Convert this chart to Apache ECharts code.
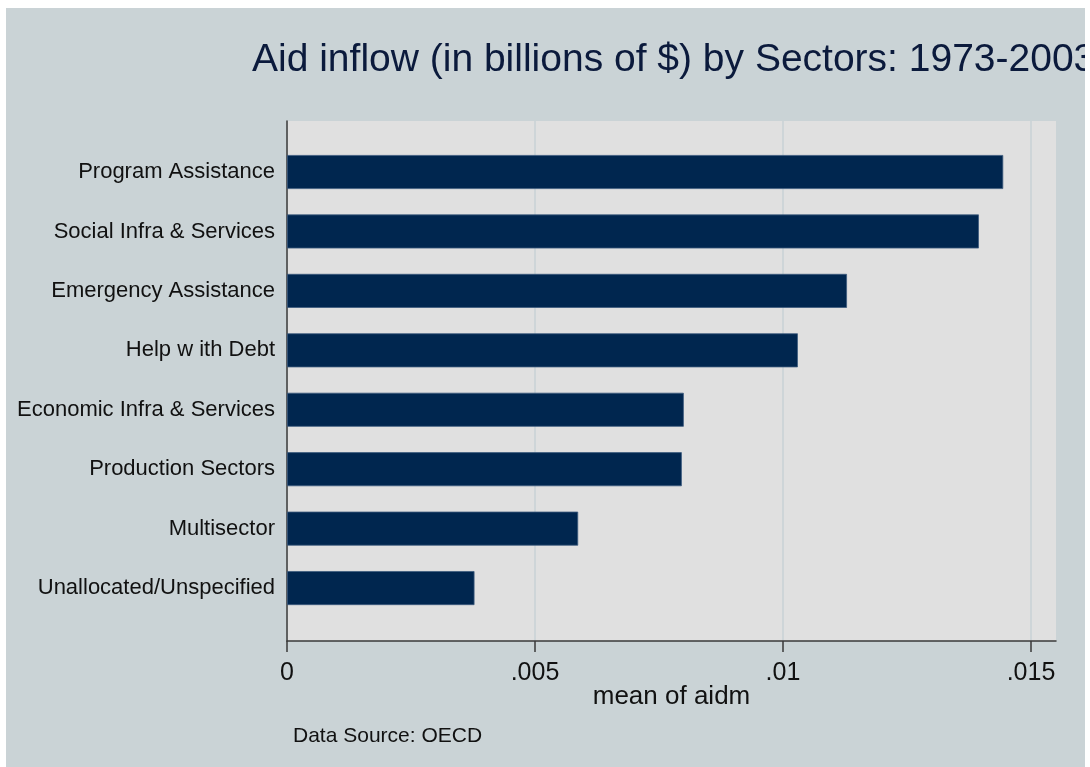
<!DOCTYPE html>
<html>
<head>
<meta charset="utf-8">
<script src="https://cdn.jsdelivr.net/npm/echarts@6/dist/echarts.min.js"></script>
<style>
html,body{margin:0;padding:0;background:#ffffff;width:1090px;height:767px;overflow:hidden;}
#c{position:absolute;left:6px;top:8px;width:1079px;height:759px;}
</style>
</head>
<body>
<div id="c"></div>
<script>
var categories = ['Program Assistance','Social Infra & Services','Emergency Assistance','Help w ith Debt','Economic Infra & Services','Production Sectors','Multisector','Unallocated/Unspecified'];
var values = [0.01444, 0.01395, 0.01129, 0.01030, 0.00800, 0.00796, 0.00587, 0.00378];
var tickLabels = ['0', '.005', '.01', '.015'];
var titleText = 'Aid inflow (in billions of $) by Sectors: 1973-2003';
var sourceText = 'Data Source: OECD';
var axisName = 'mean of aidm';

var FONT = 'Liberation Sans, Arial, sans-serif';
var chart = echarts.init(document.getElementById('c'), null, {renderer: 'canvas'});
chart.setOption({
  backgroundColor: '#CAD3D6',
  animation: false,
  title: [
    {text: titleText, left: 241, top: 28, textStyle: {fontFamily: FONT, fontSize: 39, fontWeight: 'normal', color: '#0B1A3C'}},
    {text: sourceText, left: 282, top: 713, textStyle: {fontFamily: FONT, fontSize: 21, fontWeight: 'normal', color: '#111'}}
  ],
  grid: [
    {left: 281, top: 113, width: 769, height: 520, show: true, backgroundColor: '#E0E0E0', borderWidth: 0},
    {left: 281, top: 113, width: 744, height: 520},
    {left: 281, top: 134.3, width: 744, height: 475.5}
  ],
  xAxis: [
    {gridIndex: 0, type: 'value', min: 0, max: 1, axisLine: {show: true, lineStyle: {color: '#3a3a3a', width: 1.5}},
     axisTick: {show: false}, axisLabel: {show: false}, splitLine: {show: false},
     name: axisName, nameLocation: 'middle', nameGap: 43, nameTextStyle: {fontFamily: FONT, fontSize: 26, color: '#111'}},
    {gridIndex: 1, type: 'value', min: 0, max: 0.015, interval: 0.005,
     axisLine: {show: false},
     axisTick: {show: true, length: 11, lineStyle: {color: '#3a3a3a', width: 1.5}},
     axisLabel: {show: true, margin: 20, fontFamily: FONT, fontSize: 25, color: '#111',
       formatter: function (v, i) { return tickLabels[i]; }},
     splitLine: {show: true, lineStyle: {color: '#C8D2D6', width: 1.5}}},
    {gridIndex: 2, type: 'value', min: 0, max: 0.015, show: false}
  ],
  yAxis: [
    {gridIndex: 0, type: 'value', min: 0, max: 1, axisLine: {show: true, lineStyle: {color: '#3a3a3a', width: 1.5}},
     axisTick: {show: false}, axisLabel: {show: false}, splitLine: {show: false}},
    {gridIndex: 1, type: 'value', show: false},
    {gridIndex: 2, type: 'category', data: categories, inverse: true,
     axisLine: {show: false}, axisTick: {show: false}, splitLine: {show: false},
     axisLabel: {margin: 12, fontFamily: FONT, fontSize: 22, color: '#111'}}
  ],
  series: [{
    type: 'bar', xAxisIndex: 2, yAxisIndex: 2, data: values, barWidth: 34,
    itemStyle: {color: '#00264F', borderColor: '#3C5A7E', borderWidth: 0.8}
  }]
});
</script>
</body>
</html>
